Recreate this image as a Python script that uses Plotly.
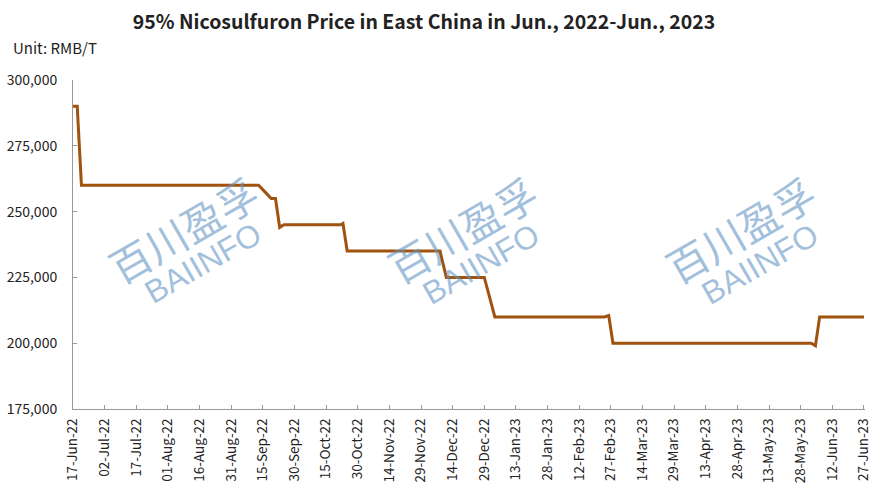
import plotly.graph_objects as go

# ---- data ----
dates = ["2022-06-17", "2022-06-19", "2022-06-21", "2022-09-13", "2022-09-16",
         "2022-09-19", "2022-09-21", "2022-09-23", "2022-09-25", "2022-10-22",
         "2022-10-23", "2022-10-25", "2022-12-08", "2022-12-11", "2022-12-29",
         "2023-01-03", "2023-02-24", "2023-02-26", "2023-02-28", "2023-06-02",
         "2023-06-04", "2023-06-06", "2023-06-27"]
prices = [290000, 290000, 260000, 260000, 257500,
          255000, 255000, 244000, 245000, 245000,
          245500, 235000, 235000, 225000, 225000,
          210000, 210000, 210500, 200000, 200000,
          199000, 210000, 210000]
y_ticks = [175000, 200000, 225000, 250000, 275000, 300000]
x_ticks = ["2022-06-17", "2022-07-02", "2022-07-17", "2022-08-01", "2022-08-16",
           "2022-08-31", "2022-09-15", "2022-09-30", "2022-10-15", "2022-10-30",
           "2022-11-14", "2022-11-29", "2022-12-14", "2022-12-29", "2023-01-13",
           "2023-01-28", "2023-02-12", "2023-02-27", "2023-03-14", "2023-03-29",
           "2023-04-13", "2023-04-28", "2023-05-13", "2023-05-28", "2023-06-12",
           "2023-06-27"]
x_labels = ["17-Jun-22", "02-Jul-22", "17-Jul-22", "01-Aug-22", "16-Aug-22",
            "31-Aug-22", "15-Sep-22", "30-Sep-22", "15-Oct-22", "30-Oct-22",
            "14-Nov-22", "29-Nov-22", "14-Dec-22", "29-Dec-22", "13-Jan-23",
            "28-Jan-23", "12-Feb-23", "27-Feb-23", "14-Mar-23", "29-Mar-23",
            "13-Apr-23", "28-Apr-23", "13-May-23", "28-May-23", "12-Jun-23",
            "27-Jun-23"]

title_text = "95% Nicosulfuron Price in East China in Jun., 2022-Jun., 2023"
unit_text = "Unit: RMB/T"
wm_cn = "百川盈孚"
wm_en = "BAIINFO"

FONT = "Noto Sans CJK SC, Noto Sans, sans-serif"

fig = go.Figure()
fig.add_trace(go.Scatter(
    x=dates, y=prices, mode="lines",
    line=dict(color="#A0520F", width=3),
    showlegend=False, hoverinfo="x+y",
))

W, H = 869, 483
L, R, T, B = 73, 4, 80, 74
pw, ph = W - L - R, H - T - B

def px2paper(xp, yp):
    return (xp - L) / pw, (H - B - yp) / ph

WM_COLOR = "rgba(100,150,195,0.6)"
annotations = []
for cx_cn, cy_cn, cx_en, cy_en in [(183, 229, 203, 263), (462, 229, 481, 264), (740, 229, 760, 264)]:
    x1, y1 = px2paper(cx_cn, cy_cn)
    annotations.append(dict(x=x1, y=y1, xref="paper", yref="paper", text=wm_cn,
                            showarrow=False, textangle=-30, xanchor="center", yanchor="middle",
                            font=dict(family="Noto Sans CJK SC", size=41, color=WM_COLOR)))
    x2, y2 = px2paper(cx_en, cy_en)
    annotations.append(dict(x=x2, y=y2, xref="paper", yref="paper", text=wm_en,
                            showarrow=False, textangle=-30, xanchor="center", yanchor="middle",
                            font=dict(family="Liberation Sans, Arial", size=32, color=WM_COLOR)))

ux, uy = px2paper(11, 48)
annotations.append(dict(x=ux, y=uy, xref="paper", yref="paper", text=unit_text,
                        showarrow=False, xanchor="left", yanchor="middle",
                        font=dict(family=FONT, size=15, color="#222")))

fig.update_layout(
    width=W, height=H,
    margin=dict(l=L, r=R, t=T, b=B),
    paper_bgcolor="white", plot_bgcolor="white",
    title=dict(text="<b>" + title_text + "</b>", x=424 / W, xanchor="center",
               y=1 - 22 / H, yanchor="middle", yref="container",
               font=dict(family=FONT, size=19.5, color="#222")),
    font=dict(family=FONT, color="#222"),
    annotations=annotations,
    xaxis=dict(
        type="date", range=["2022-06-17", "2023-06-27 12:00"],
        tickmode="array", tickvals=x_ticks, ticktext=x_labels,
        tickangle=-90, ticks="inside", ticklen=4, tickcolor="#999",
        ticklabelstandoff=3, automargin=False, ticklabeloverflow="allow",
        showline=True, linecolor="#999", linewidth=1, showgrid=False, zeroline=False,
        tickfont=dict(family=FONT, size=13.5, color="#222"),
    ),
    yaxis=dict(
        range=[175000, 300000], tickvals=y_ticks, tickformat=",",
        ticks="inside", ticklen=4, tickcolor="#999",
        ticklabelstandoff=12, automargin=False,
        showline=True, linecolor="#999", linewidth=1, showgrid=False, zeroline=False,
        tickfont=dict(family=FONT, size=14, color="#222"),
    ),
)

fig.write_html("out.html")
